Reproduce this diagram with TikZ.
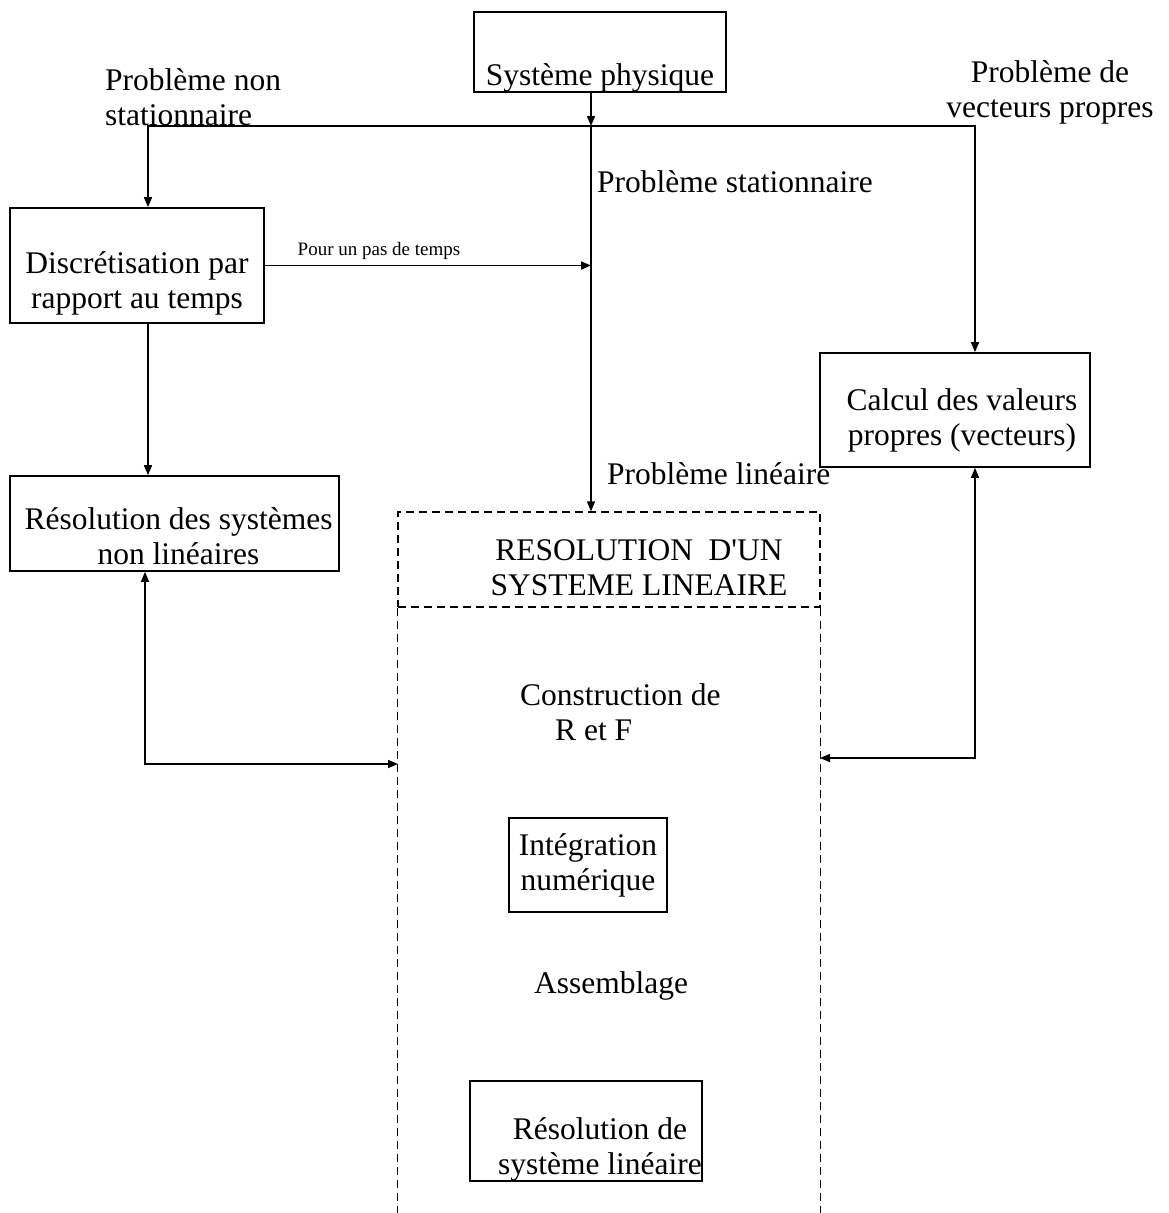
\documentclass[tikz,border=0pt]{standalone}
\usepackage{fontspec}
\setmainfont{Liberation Serif}[Ligatures=TeXOff]
\usetikzlibrary{arrows.meta,calc}
\begin{document}
\begin{tikzpicture}[x=1pt,y=-1pt,
  every node/.style={font=\fontsize{31.5}{35}\selectfont, inner sep=0pt},
  box/.style={draw, line width=1.7pt, align=center},
  dashbox/.style={draw, dash pattern=on 8pt off 5pt, line width=1.2pt},
  link/.style={line width=1.5pt, -{Triangle[length=10pt,width=8pt]}},
  twoway/.style={line width=1.5pt, {Triangle[length=10pt,width=8pt]}-{Triangle[length=10pt,width=8pt]}},
  small/.style={font=\fontsize{19}{22}\selectfont}]
\useasboundingbox (0,0) rectangle (1168,1213);

% boxes
\node[box, minimum width=252pt, minimum height=80pt] (sys) at (600,52)
  {\rule{0pt}{73pt}Système physique};
\node[box, minimum width=254pt, minimum height=115pt] (disc) at (137,265.5)
  {\rule{0pt}{58pt}Discrétisation par\\rapport au temps};
\node[box, minimum width=329pt, minimum height=95pt] (nonlin) at (174.5,523.5)
  {\rule{0pt}{47pt}\hspace*{8pt}Résolution des systèmes\\\hspace*{8pt}non linéaires};
\node[box, minimum width=270pt, minimum height=114pt] (calc) at (955,410)
  {\rule{0pt}{42pt}\hspace*{14pt}Calcul des valeurs\\\hspace*{14pt}propres (vecteurs)};
\node[dashbox, align=center, minimum width=422pt, minimum height=95pt] (head) at (609,559.5)
  {\rule{0pt}{37pt}\hspace*{60pt}RESOLUTION~~D'UN\\\hspace*{60pt}SYSTEME LINEAIRE};
\node[box, minimum width=158pt, minimum height=94pt] (integ) at (588,865)
  {Intégration\\numérique};
\node[box, minimum width=230pt, minimum height=98pt] (resol) at (586,1131)
  {\rule{0pt}{58pt}\hspace*{28pt}Résolution de\\\hspace*{28pt}système linéaire};

% open lower part of the linear-system frame
\draw[dashbox] (head.south west) -- (head.south west |- 0,1213);
\draw[dashbox] (head.south east) -- (head.south east |- 0,1213);

% free texts
\node[align=left, anchor=north west] (lnonstat) at (105,68) {Problème non\\stationnaire};
\node[align=center, anchor=north] (lvect) at (1050,60) {Problème de\\vecteurs propres};
\node[anchor=base west] (lstat) at (597,192) {Problème stationnaire};
\node[anchor=base west] (llin) at (607,484) {Problème linéaire};
\node[align=left, anchor=north west] (lconst) at (520,683) {Construction de\\\hspace*{35pt}R et F};
\node[anchor=base] (lassem) at (611,993) {Assemblage};

% connectors
\coordinate (J) at (591,126);
\coordinate (linL) at (398,764);
\coordinate (linR) at (820,758);
\draw[link] ([xshift=-9pt]sys.south) -- (J);
\draw[link] (J) -| ([xshift=11pt]disc.north);
\draw[link] (J) -| ([xshift=20pt]calc.north);
\draw[link] (J) -- (J |- head.north);
\draw[link] (disc.east) -- (J |- disc.east)
  node[small, pos=0.35, above=5pt] {Pour un pas de temps};
\draw[link] ([xshift=11pt]disc.south) -- ([xshift=11pt]disc.south |- nonlin.north);
\draw[twoway] ([xshift=-29.5pt]nonlin.south) |- (linL);
\draw[twoway] ([xshift=20pt]calc.south) |- (linR);
\end{tikzpicture}
\end{document}
